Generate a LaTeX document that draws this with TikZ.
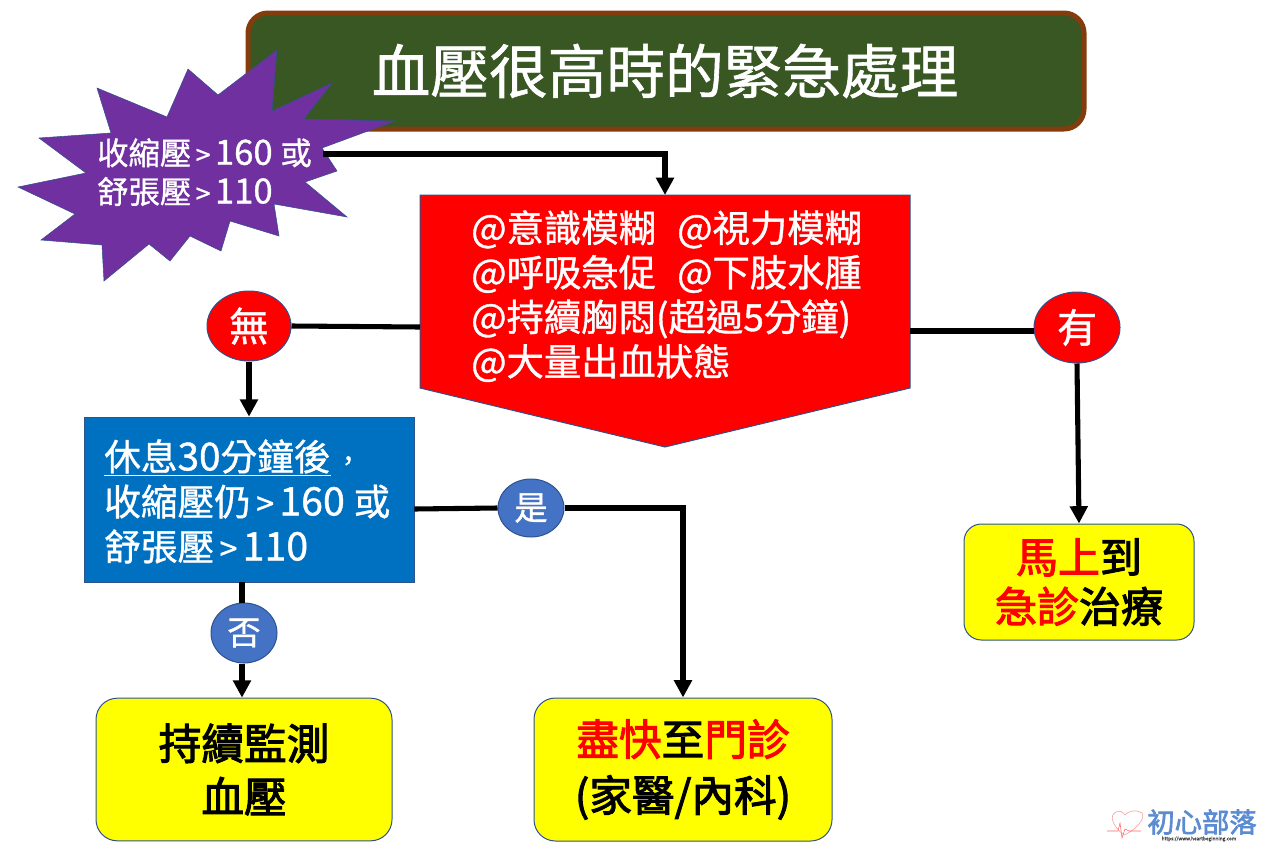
\documentclass[tikz,border=0pt]{standalone}
\usepackage{fontspec}
\setmainfont{Noto Sans CJK TC}[FakeBold=1.0]
\newfontfamily\heavyf{Noto Sans CJK TC}[FakeBold=2.4]
\usetikzlibrary{arrows.meta,calc,shapes.geometric}
\definecolor{titlefill}{HTML}{385723}
\definecolor{titleedge}{HTML}{843C0C}
\definecolor{burstfill}{HTML}{7030A0}
\definecolor{edgeblue}{HTML}{2F528F}
\definecolor{boxblue}{HTML}{0070C0}
\definecolor{dotblue}{HTML}{4472C4}
\definecolor{logoblue}{HTML}{5B8BD0}
\definecolor{logopink}{HTML}{F4A6A6}
\definecolor{pureyellow}{HTML}{FFFF00}
\definecolor{purered}{HTML}{FF0000}
\newcommand{\fsz}[2]{\fontsize{#1}{#2}\selectfont}
\newcommand{\rd}[1]{\textcolor{purered}{#1}}
\tikzset{
  x=0.75pt,y=-0.75pt,
  link/.style={line width=3.8pt,black},
  arrowlink/.style={link,-{Triangle[length=13pt,width=13pt]},shorten >=0pt},
  yellowbox/.style={draw=edgeblue,line width=0.75pt,fill=pureyellow,rounded corners=16pt,align=center,inner sep=0pt},
  reddot/.style={ellipse,draw=edgeblue,line width=0.75pt,fill=purered,text=white,inner sep=0pt,font=\fsz{30}{36}},
  bluedot/.style={ellipse,draw=edgeblue,line width=0.75pt,fill=dotblue,text=white,inner sep=0pt,font=\fsz{25}{30}},
  whitetext/.style={text=white,align=left,inner sep=0pt},
  ghost/.style={inner sep=0pt,outer sep=0pt},
}
\begin{document}
\begin{tikzpicture}
\useasboundingbox (0,0) rectangle (1280,853);
% title
\node[draw=titleedge,line width=3.75pt,fill=titlefill,rounded corners=15pt,minimum width=627pt,minimum height=87pt,inner sep=0pt] (title) at (666,71) {};
\node[text=white,inner sep=0pt,font=\fsz{44}{50}] (titletext) at (665,71) {血壓很高時的緊急處理};
% burst
\fill[burstfill,draw=edgeblue,line width=0.4pt]
 (277,50)--(272,111)--(332,83)--(304,119)--(395,121)--(322,148)--(337,171)--(305,182)--(347,217)--(274,204)--(279,236)--(230,221)--(221,251)--(190,236)--(170,261)--(149,244)--(104,281)--(102,245)--(41,240)--(75,214)--(18,187)--(86,173)--(39,138)--(111,133)--(97,88)--(167,117)--(188,69)--(218,95)--cycle;
\node[whitetext,anchor=north west,font=\fsz{23.5}{29}] (bursttext) at (97,138) {收縮壓{\fsz{20}{29}\,>\,}{\fsz{26}{29}160 }或\\舒張壓{\fsz{20}{29}\,>\,}{\fsz{26}{29}110}};
\coordinate (burstout) at (323,154);
% red pentagon
\fill[purered,draw=edgeblue,line width=0.75pt] (420,195)--(910,195)--(910,388)--(665,447)--(420,388)--cycle;
\node[ghost,minimum width=367.5pt,minimum height=144.75pt] (redbox) at (665,291.5) {};
\node[whitetext,anchor=north west,font=\fsz{28}{33.4}] (redtext) at (471,210) {@意識模糊\hspace{16pt}@視力模糊\\@呼吸急促\hspace{16pt}@下肢水腫\\@持續胸悶(超過5分鐘)\\@大量出血狀態};
% blue box
\node[draw=edgeblue,line width=0.5pt,fill=boxblue,minimum width=247.5pt,minimum height=123.75pt,inner sep=0pt] (bluebox) at (249,499.5) {};
\node[whitetext,anchor=north west,font=\fsz{27.5}{33.75}] (bluetext) at (104,439) {\underline{休息{\fsz{29}{33.75}30}分鐘後}{\fsz{20}{33.75}\,，}\\收縮壓仍{\fsz{24}{33.75}\,>\,}{\fsz{29.5}{33.75}160 }或\\舒張壓{\fsz{24}{33.75}\,>\,}{\fsz{29.5}{33.75}110}};
% yellow boxes
\node[yellowbox,minimum width=172.5pt,minimum height=87pt,rounded corners=13pt,font=\heavyf\fsz{31.5}{37}] (er) at (1079,582) {\rd{馬上}到\\\rd{急診}治療};
\node[yellowbox,minimum width=222pt,minimum height=107pt,font=\heavyf\fsz{32}{40}] (monitor) at (244,769.5) {持續監測\\血壓};
\node[yellowbox,minimum width=223.5pt,minimum height=107.25pt,font=\heavyf\fsz{32}{42}] (clinic) at (683,769.5) {\rd{盡快}至\rd{門診}\\(家醫/內科)};
% dots
\node[reddot,minimum width=63pt,minimum height=52.5pt] (no) at (249,326) {無};
\node[reddot,minimum width=64.5pt,minimum height=53.25pt] (yes) at (1077,327.5) {有};
\node[bluedot,minimum width=49.5pt,minimum height=43.5pt] (shi) at (531,508) {是};
\node[bluedot,minimum width=49.5pt,minimum height=45pt] (fou) at (244,633) {否};
% connectors
\draw[arrowlink] (burstout) -- (burstout -| redbox.north) -- (redbox.north);
\draw[link] (no.east) -- ($(redbox.west)+(0,35.5)$);
\draw[link] ($(redbox.east)+(0,39.5)$) coordinate (rightout) -- (rightout -| yes.west);
\draw[arrowlink] (yes.south) -- (er.north);
\draw[arrowlink] (no.south) -- (no.south |- bluebox.north);
\draw[link] ($(bluebox.east)+(0,9.5)$) -- (shi.west);
\draw[arrowlink] (shi.east) -- (shi.east -| clinic.north) -- (clinic.north);
\draw[link] (bluebox.south -| fou.south) ++(-2,0) coordinate (bf) -- (bf |- fou.north);
\draw[arrowlink] ($(fou.south)+(-2,0)$) coordinate (fs) -- (fs |- monitor.north);
% logo
\draw[logopink,line width=0.5pt] (1124,835) .. controls (1112,826) and (1109,815) .. (1116,812) .. controls (1120,810) and (1123,812) .. (1125,815) .. controls (1128,811) and (1136,809) .. (1142,813) .. controls (1146,818) and (1136,830) .. (1124,835);
\coordinate (ecgstart) at (1107,831);
\coordinate (ecgend) at (1141,831);
\draw[red!60,line width=0.4pt] (ecgstart) -- (1118,831) -- (1120,823) -- (1122,838) -- (1125,829) -- (1129,831) -- (ecgend);
\node[inner sep=0pt,text=logoblue,font=\heavyf\fsz{20.5}{24}] (logotext) at (1202,822) {初心部落};
\node[inner sep=0pt,text=black!75,font=\fsz{3.6}{4}] (logourl) at (1199,839) {https://www.heartbeginning.com};
\end{tikzpicture}
\end{document}
